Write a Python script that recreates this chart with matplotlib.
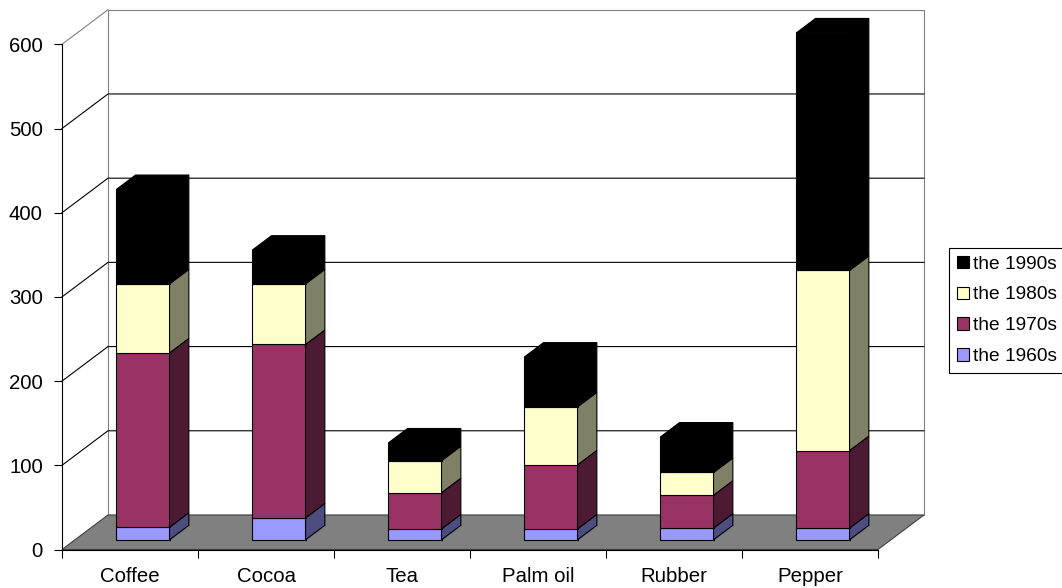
import matplotlib.pyplot as plt
from matplotlib.patches import Polygon, Rectangle, Patch

plt.rcParams['font.family'] = ['Liberation Sans', 'DejaVu Sans']

products = ['Coffee', 'Cocoa', 'Tea', 'Palm oil', 'Rubber', 'Pepper']
decades = ['the 1960s', 'the 1970s', 'the 1980s', 'the 1990s']
v1960s = [15, 26, 13, 13, 14, 14]
v1970s = [207, 206, 43, 76, 39, 92]
v1980s = [82, 72, 38, 69, 27, 214]
v1990s = [112, 40, 21, 59, 42, 282]
y_ticks = [0, 100, 200, 300, 400, 500, 600]

front_colors = ['#9999FF', '#993366', '#FFFFCC', '#000000']
side_colors = ['#4D4D80', '#4D1A33', '#808066', '#000000']

# fake 3d: depth of the box (x in categories, y in value units)
DX, DY = 0.338, 41.0
BAR_D0, BAR_DD = 0.28, 0.42
BAR_W = 0.392
LW = 0.8
FS = 14.7


def main():
    series = [v1960s, v1970s, v1980s, v1990s]
    n = len(products)
    top = y_ticks[-1]

    fig = plt.figure(figsize=(10.62, 5.88), dpi=100)
    ax = fig.add_axes([0, 0, 1, 1])
    ax.set_xlim(-62 / 136, 1000 / 136)
    ax.set_ylim(-38.5 / 0.842, 549.5 / 0.842)

    # walls and floor
    ax.add_patch(Rectangle((DX, DY), n, top, fc='white', ec='#808080', lw=LW, zorder=0))
    ax.add_patch(Polygon([(0, 0), (n, 0), (n + DX, DY), (DX, DY)],
                         fc='#808080', ec='#404040', lw=LW, zorder=1))
    for v in y_ticks[1:-1]:
        ax.plot([0, DX, n + DX], [v, v + DY, v + DY], color='black', lw=LW, zorder=0.5)
    ax.plot([0, DX], [top, top + DY], color='#808080', lw=LW, zorder=0.5)

    # stacked bars
    for i in range(n):
        x0 = i + 0.5 + BAR_D0 * DX - BAR_W / 2
        x1 = x0 + BAR_W
        base = BAR_D0 * DY
        for j, vals in enumerate(series):
            h = vals[i]
            ax.bar(x0, h, width=BAR_W, bottom=base, align='edge',
                   color=front_colors[j], ec='black', lw=LW, zorder=3)
            ax.add_patch(Polygon([(x1, base), (x1 + BAR_DD * DX, base + BAR_DD * DY),
                                  (x1 + BAR_DD * DX, base + h + BAR_DD * DY), (x1, base + h)],
                                 fc=side_colors[j], ec='black', lw=LW, zorder=3))
            base += h
        ax.add_patch(Polygon([(x0, base), (x1, base), (x1 + BAR_DD * DX, base + BAR_DD * DY),
                              (x0 + BAR_DD * DX, base + BAR_DD * DY)],
                             fc=side_colors[-1], ec='black', lw=LW, zorder=3))

    # axes
    for s in ['top', 'right']:
        ax.spines[s].set_visible(False)
    ax.spines['left'].set_position(('data', 0))
    ax.spines['left'].set_bounds(0, top)
    ax.spines['bottom'].set_position(('data', 0))
    ax.spines['bottom'].set_bounds(0, n)
    for s in ['left', 'bottom']:
        ax.spines[s].set_linewidth(LW)
        ax.spines[s].set_zorder(2)

    ax.set_yticks(y_ticks)
    ax.tick_params(axis='y', length=5.8, width=LW, pad=8, labelsize=FS)
    ax.set_xticks(range(n + 1), labels=[''] * (n + 1))
    ax.set_xticks([i + 0.5 for i in range(n)], labels=products, minor=True)
    ax.tick_params(axis='x', which='major', length=5.8, width=LW)
    ax.tick_params(axis='x', which='minor', length=0, pad=12.5, labelsize=FS)

    handles = [Patch(fc=front_colors[j], ec='black', lw=LW, label=decades[j])
               for j in reversed(range(len(decades)))]
    leg = fig.legend(handles=handles, loc='upper left',
                     bbox_to_anchor=(949 / 1062, 1 - 248 / 588), fontsize=13.8,
                     fancybox=False, edgecolor='black', framealpha=1, borderpad=0.4,
                     handlelength=0.62, handleheight=0.62, handletextpad=0.25,
                     labelspacing=0.72, borderaxespad=0)
    leg.get_frame().set_linewidth(LW)

    fig.savefig('out.png', dpi=100)


if __name__ == '__main__':
    main()
